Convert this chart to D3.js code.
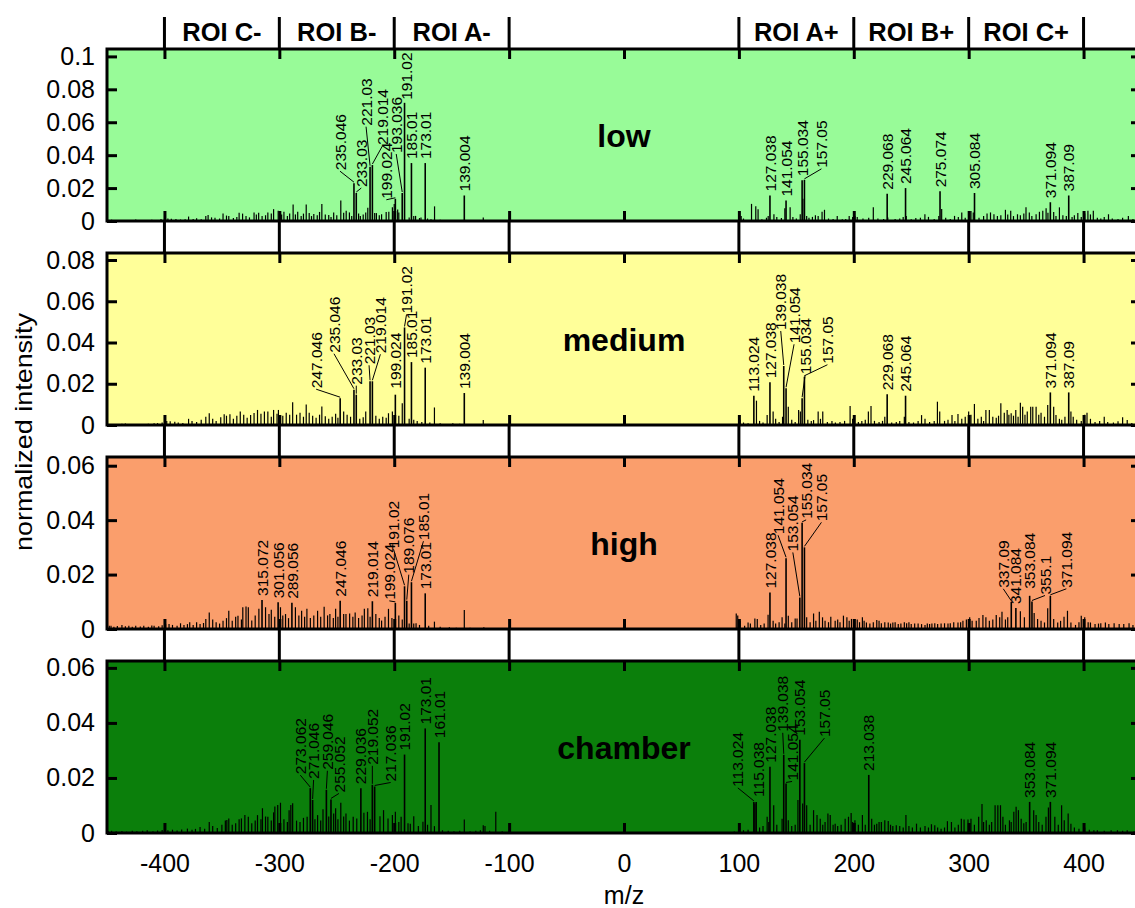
<!DOCTYPE html>
<html>
<head>
<meta charset="utf-8">
<script src="https://cdnjs.cloudflare.com/ajax/libs/d3/7.8.5/d3.min.js"></script>
<style>
  body { margin: 0; background: #fff; }
  svg { display: block; font-family: "Liberation Sans", Arial, sans-serif; }
</style>
</head>
<body>
<svg id="chart" width="1135" height="908"></svg>
<script>
// m/z is signed: negative ions on the left, positive on the right
var xTicks = [-400, -300, -200, -100, 0, 100, 200, 300, 400];
var roiBounds = [-400, -300, -200, -100, 100, 200, 300, 400];
var roiNames = ['ROI C-', 'ROI B-', 'ROI A-', 'ROI A+', 'ROI B+', 'ROI C+'];
var roiCenters = [-350, -250, -150, 150, 250, 350];

var panelNames = ['low', 'medium', 'high', 'chamber'];
var panelMax = [0.1045, 0.0834, 0.0632, 0.0625];
var lowTicks = [0, 0.02, 0.04, 0.06, 0.08, 0.1];
var mediumTicks = [0, 0.02, 0.04, 0.06, 0.08];
var highTicks = [0, 0.02, 0.04, 0.06];
var chamberTicks = [0, 0.02, 0.04, 0.06];

// labelled peaks [m/z, intensity]
var lowPeaks = [[-235.046,.023],[-233.03,.017],[-221.03,.033],[-219.014,.034],[-199.024,.0135],[-193.036,.017],
  [-191.02,.0718],[-185.01,.0352],[-173.01,.0352],[-139.004,.0155],[127.038,.0155],[141.054,.0124],[155.034,.0248],
  [157.05,.025],[229.068,.0166],[245.064,.020],[275.074,.018],[305.084,.017],[371.094,.0114],[387.09,.0155]];
var mediumPeaks = [[-247.046,.013],[-235.046,.0171],[-233.03,.0147],[-221.03,.0212],[-219.014,.0212],[-199.024,.0147],
  [-191.02,.0473],[-185.01,.0305],[-173.01,.0278],[-139.004,.0155],[113.024,.0142],[127.038,.0207],[139.038,.0286],
  [141.054,.0178],[155.034,.013],[157.05,.0234],[229.068,.0149],[245.064,.0142],[371.094,.0158],[387.09,.0158]];
var highPeaks = [[-315.072,.0107],[-301.056,.0098],[-289.056,.0096],[-247.046,.0104],[-219.014,.0102],[-199.024,.0096],
  [-191.02,.0157],[-189.076,.0104],[-185.01,.0172],[-173.01,.0131],[127.038,.0134],[141.054,.026],[153.054,.0116],
  [155.034,.039],[157.05,.030],[337.09,.010],[341.084,.0077],[353.084,.0122],[355.1,.0101],[371.094,.0122]];
var chamberPeaks = [[-273.062,.0163],[-271.046,.012],[-259.046,.0157],[-255.052,.0122],[-229.036,.0163],[-219.052,.0175],
  [-217.036,.0169],[-191.02,.0285],[-173.01,.038],[-161.01,.033],[113.024,.0113],[115.038,.0113],[127.038,.0241],
  [139.038,.0284],[141.054,.018],[153.054,.0339],[157.05,.0254],[213.038,.0211],[353.084,.0113],[371.094,.0113]];

// unlabelled peaks [m/z, intensity]
var lowNoise = [[-446,.0008],[-440,.0006],[-432,.0005],[-425,.0009],[-418,.0006],[-411,.0008],[-407,.0005],[-403,.0012],
  [-397,.0015],[-394,.0014],[-390,.0012],[-386,.0009],[-382,.0011],[-379,.0027],[-375,.0012],[-372,.0017],[-368,.0010],
  [-364,.0031],[-362,.0037],[-359,.0022],[-356,.0020],[-352,.0015],[-349,.0045],[-346,.0033],[-344,.0030],[-340,.0018],
  [-337,.0025],[-335,.0050],[-332,.0045],[-329,.0030],[-326,.0022],[-322,.0052],[-320,.0040],[-318,.0050],[-315,.0030],
  [-312,.0035],[-310,.0052],[-307,.0045],[-305,.0072],[-301,.0062],[-298,.0040],[-296,.0056],[-293,.0030],[-291,.0045],
  [-288,.0100],[-286,.0040],[-284,.0056],[-281,.0030],[-279,.0045],[-276.6,.0100],[-274,.0048],[-272,.0030],[-270,.0042],
  [-267,.0035],[-265,.0055],[-263,.0104],[-260,.0040],[-257,.0036],[-255,.0025],[-252.7,.0052],[-250,.0035],[-246.5,.0124],
  [-244,.0050],[-241.8,.0062],[-239,.0052],[-237,.0030],[-231,.0045],[-229.5,.0031],[-227,.0040],[-224.8,.0052],
  [-223,.0080],[-217,.0048],[-215.5,.0048],[-213,.0035],[-211,.0041],[-207,.0055],[-204.7,.0056],[-201.6,.0083],
  [-200,.0104],[-197,.0070],[-196,.0052],[-187,.0021],[-183,.0030],[-181.4,.0031],[-178,.0018],[-176.7,.0021],[-171,.0015],
  [-168,.0010],[-164.9,.0089],[-160,.0008],[-156,.0006],[-149,.0006],[-144,.0005],[-136,.0004],[-130,.0005],[-122.5,.0021],
  [-115,.0003],
  [102,.0030],[104,.0015],[111,.0104],[114.7,.0090],[116.7,.0072],[120,.0010],[124,.0020],[125.5,.0031],[130.5,.0041],
  [133,.0025],[137,.0018],[140,.0077],[144.6,.0083],[147,.0025],[150,.0015],[153.4,.0041],[155.7,.0135],[159,.0030],
  [161,.0020],[164,.0025],[166.6,.0035],[169,.0030],[172.4,.0056],[174.5,.0068],[178,.0015],[182,.0012],[185.6,.0031],
  [190,.0010],[193,.0012],[196,.0031],[199,.0025],[201,.0030],[203,.0025],[208,.0015],[213,.0020],[217,.0083],[221,.0015],
  [226,.0012],[229.6,.0021],[236,.0012],[240,.0015],[243,.0025],[245.7,.0031],[250,.0010],[254,.0018],[258,.0020],
  [261.9,.0041],[265,.0025],[270,.0012],[274,.0030],[276.5,.0073],[280,.0020],[284,.0012],[287.7,.0031],[291,.0025],
  [294,.0052],[297,.0020],[300,.0040],[302,.0060],[304,.0052],[309,.0020],[313,.0030],[316,.0045],[319,.0052],[322,.0041],
  [325,.0030],[328,.0035],[332,.0068],[334,.0040],[336.6,.0062],[339,.0030],[342.5,.0041],[345,.0035],[348,.0045],
  [349.9,.0083],[352.8,.0052],[355,.0030],[358.7,.0041],[361.6,.0056],[364.5,.0062],[367.4,.0077],[369,.0050],[374,.0055],
  [376,.0030],[379,.0083],[382,.0035],[385,.0031],[390,.0025],[392,.0035],[395,.0048],[398,.0025],[401,.0045],[403.8,.0062],
  [406,.0040],[408.5,.0062],[412,.0020],[415,.0015],[418,.0025],[421.7,.0041],[425,.0015],[430,.0012],[434,.0020],
  [439,.0031],[443,.0012],[447,.0020]];

var mediumNoise = [[-447,.0005],[-441,.0004],[-437,.0006],[-434,.0007],[-428,.0004],[-420,.0005],[-414,.0006],[-409,.0008],
  [-406,.0009],[-402,.0012],[-398,.0020],[-395,.0018],[-391,.0016],[-388,.0012],[-384,.0010],[-379,.0030],[-376,.0020],
  [-372,.0015],[-368,.0026],[-364,.0040],[-361,.0057],[-358,.0030],[-355,.0020],[-351,.0038],[-348,.0052],[-346,.0045],
  [-343,.0052],[-340,.0030],[-337,.0045],[-334,.0065],[-331,.0050],[-328,.0035],[-325,.0048],[-322,.0058],[-319,.0073],
  [-316,.0055],[-313,.0065],[-310,.0065],[-307,.0040],[-305,.0073],[-302,.0055],[-300.8,.0073],[-297,.0045],[-294,.0060],
  [-291,.0050],[-288.4,.011],[-285,.0050],[-282,.0060],[-279,.0040],[-276.6,.010],[-274,.0060],[-271,.0045],[-268,.0035],
  [-265,.0050],[-263,.009],[-260,.0042],[-257,.0030],[-254,.0040],[-251,.0055],[-249,.0035],[-244,.0065],[-241,.0050],
  [-238,.0040],[-230,.0030],[-227,.0038],[-224.8,.0065],[-216,.0045],[-213,.0030],[-210,.0040],[-207,.0035],[-205,.0057],
  [-201.6,.0065],[-196,.0045],[-193,.0106],[-187,.0030],[-183,.0025],[-180,.0020],[-176,.0015],[-169,.0012],[-165,.0085],
  [-160,.0008],[-152,.0005],[-149,.0008],[-143,.0006],[-134,.0004],[-127,.0005],[-122.5,.0024],[-116,.0004],
  [101,.0025],[104,.0012],[108,.0008],[115.3,.0118],[118,.0020],[121,.0012],[124.6,.0048],[129.8,.0065],[132,.0030],
  [135,.0015],[138,.0040],[143,.0089],[146,.0025],[149,.0015],[152,.0073],[153.5,.0065],[160,.0025],[163,.0020],[165,.0024],
  [169,.0065],[171,.0030],[173,.0065],[177,.0015],[181,.0020],[184,.0012],[188,.0015],[192,.0020],[196.8,.0092],[199,.0030],
  [204,.0015],[207,.0020],[210,.0025],[212.7,.0065],[215,.0092],[218,.0020],[222,.0015],[225,.0020],[227,.0040],[233,.0012],
  [237,.0015],[240,.0020],[244,.0040],[248,.0015],[252,.0012],[256,.0020],[259,.0048],[262,.0030],[266,.0015],[270,.0020],
  [272.8,.0113],[274.8,.0065],[279,.0020],[282,.0025],[285.5,.0048],[288,.0020],[290.7,.0053],[294,.0030],[297,.0040],
  [300,.0065],[302,.0050],[305,.0102],[308,.0030],[311,.0040],[313,.0020],[315,.0073],[318,.0073],[321,.0040],[324,.0035],
  [326,.0045],[328,.0105],[331,.0060],[333.5,.0073],[335,.0050],[337,.0057],[339,.0045],[341,.0073],[343,.0040],[345,.0108],
  [347,.0089],[349,.0050],[351,.0065],[354,.0089],[355.8,.0089],[358.7,.0089],[361,.0050],[363,.0060],[366,.0040],
  [368.8,.0097],[374,.0089],[376,.0048],[379,.0030],[381,.0025],[383.8,.0040],[389,.0065],[391,.0040],[394,.0025],
  [398,.0020],[401,.0050],[403,.0060],[406,.0030],[410,.0015],[414,.0020],[418,.0040],[421,.0015],[426,.0012],[430,.0018],
  [434,.0037],[438,.0024],[442,.0010],[447,.0012]];

var highNoise = [[-448,.0012],[-446.5,.0012],[-444,.0008],[-441,.0011],[-437,.0015],[-434,.0010],[-431,.0012],[-428,.0008],
  [-425,.0012],[-421,.0009],[-418,.0012],[-414,.0008],[-411,.0013],[-409,.0012],[-405,.0010],[-402,.0014],[-399,.0018],
  [-396,.0018],[-393,.0015],[-389,.0012],[-386,.0021],[-383,.0015],[-380,.0018],[-378,.0025],[-375,.0015],[-372,.0025],
  [-369,.0018],[-366,.0022],[-364,.0037],[-361,.0061],[-358,.0035],[-355,.0025],[-352,.0020],[-349,.0030],[-346,.0040],
  [-344,.0067],[-341,.0030],[-338,.0045],[-336,.0049],[-333,.0035],[-331.8,.0080],[-329,.0083],[-327,.0080],[-324,.0031],
  [-321,.0050],[-317.8,.0074],[-312,.0080],[-309,.0055],[-307,.0071],[-304,.0045],[-299,.0080],[-297,.0050],[-294.6,.0055],
  [-292,.0040],[-286,.0080],[-283,.0050],[-280.6,.0067],[-278,.0045],[-276,.0074],[-273,.0040],[-270,.0050],[-266.7,.0067],
  [-264,.0045],[-261,.0082],[-258,.0050],[-256,.0055],[-253,.0040],[-251,.0074],[-249,.0045],[-244,.0055],[-242,.0055],
  [-238.8,.0057],[-236,.0045],[-234,.0061],[-231,.0040],[-228,.0050],[-226,.0074],[-223,.0076],[-221,.0045],[-216,.0055],
  [-213,.0040],[-211,.0031],[-208,.0045],[-205,.0074],[-202,.0040],[-196,.0050],[-193,.0035],[-187,.0020],[-183,.0020],
  [-181,.0021],[-178,.0015],[-170,.0012],[-165,.0027],[-160,.0008],[-152,.0006],[-146,.0005],[-139,.0070],[-134,.0005],
  [-125,.0004],[-122,.0006],[-118,.0003],
  [97.7,.0057],[99,.0050],[101,.0030],[105,.0012],[108,.0024],[110,.0020],[113.9,.0039],[116,.0037],[119,.0015],[122,.0020],
  [125.4,.0052],[129.8,.0030],[132,.0020],[135,.0025],[137.6,.0043],[140,.0020],[143,.0049],[146,.0025],[149,.0039],
  [150.6,.0039],[159,.0043],[162,.0025],[165,.0057],[167,.0030],[170,.0063],[172.8,.0043],[175,.0030],[178,.0025],[180,.0045],
  [183.8,.0030],[186,.0035],[188,.0025],[191,.0049],[194,.0043],[196,.0030],[198,.0037],[201,.0037],[203,.0035],[205,.0025],
  [207.5,.0043],[209,.0030],[211,.0024],[214,.0020],[217,.0025],[220,.0033],[222,.0030],[224,.0021],[227,.0025],[230,.0024],
  [232,.0020],[234,.0024],[236,.0025],[238.7,.0018],[241,.0020],[244,.0025],[246,.0021],[248,.0025],[250,.0018],[253,.0020],
  [256,.0020],[259,.0018],[262,.0015],[264,.0020],[266,.0018],[268,.0020],[270.5,.0021],[273,.0018],[276,.0020],[279,.0021],
  [282,.0020],[284,.0021],[287,.0025],[290.7,.0024],[293,.0025],[295,.0030],[298,.0035],[300.9,.0043],[303,.0030],
  [306.6,.0030],[309,.0040],[312.4,.0051],[315,.0043],[318,.0030],[321,.0035],[324,.0051],[327,.0043],[329,.0063],[332,.0035],
  [334,.0043],[345,.0065],[348.5,.0043],[357,.0059],[360,.0037],[363,.0030],[366,.0024],[368.8,.0076],[374,.0037],
  [377.5,.0024],[380,.0030],[383,.0045],[386,.0067],[389,.0024],[393,.0015],[396,.0025],[398,.0049],[401,.0043],[404,.0025],
  [406,.0024],[410,.0018],[413,.0020],[415,.0021],[419,.0024],[422,.0018],[426.6,.0021],[431,.0018],[435,.0018],
  [439.6,.0021],[443,.0015],[447,.0018]];

var chamberNoise = [[-449,.0007],[-446,.0008],[-442,.0006],[-437,.0007],[-433,.0005],[-428,.0008],[-424,.0006],[-419,.0008],
  [-415,.0010],[-410,.0006],[-406,.0009],[-402,.0011],[-397,.0010],[-393,.0012],[-389,.0009],[-385,.0013],[-380,.0016],
  [-376,.0012],[-373,.0015],[-369,.0022],[-365,.0015],[-361,.0040],[-358,.0025],[-354,.0018],[-350,.0030],[-347,.0045],
  [-345.7,.0047],[-344,.0053],[-341,.0030],[-338,.0035],[-335,.0050],[-333,.0053],[-330,.0065],[-327,.0059],[-324,.0035],
  [-321,.0045],[-319,.0065],[-316,.0050],[-314.7,.0090],[-312,.0060],[-310,.0059],[-307,.0045],[-305,.0075],[-303.9,.0096],
  [-301.4,.0102],[-299,.0110],[-296,.0050],[-293,.0040],[-291.5,.0083],[-290,.0102],[-288.4,.0108],[-285,.0045],[-282,.0040],
  [-279,.0055],[-275.8,.0059],[-269,.0050],[-266.7,.0065],[-264,.0045],[-262,.0086],[-257,.0060],[-252.7,.0071],[-251,.0090],
  [-249,.0050],[-246.5,.0110],[-244,.0060],[-242,.0071],[-239,.0045],[-235.7,.0059],[-232.6,.0053],[-226.4,.0074],
  [-223.3,.0077],[-221,.0050],[-212.4,.0061],[-209.3,.0083],[-205.4,.0053],[-201.6,.0065],[-199,.0077],[-196,.0040],
  [-194,.0059],[-188,.0035],[-186,.0034],[-183,.0061],[-179,.0025],[-175,.0041],[-171,.0030],[-168,.0102],[-165,.0025],
  [-158,.0010],[-153,.0008],[-148,.0006],[-143,.0008],[-139,.0049],[-134,.0006],[-129,.0008],[-125,.0010],[-122.5,.0028],
  [-121,.0025],[-117,.0008],[-111.6,.0077],[-106,.0006],[-100,.0005],
  [71,.0004],[85,.0003],[96,.0005],[100.6,.0020],[104,.0010],[108,.0012],[113.9,.0107],[118,.0020],[121,.0025],[124.6,.0059],
  [126,.0040],[130.3,.0101],[133,.0030],[137.6,.0052],[143,.0046],[146,.0025],[149,.0030],[151.4,.0120],[155.5,.0107],
  [159,.0101],[162,.0030],[165,.0083],[168,.0065],[170.8,.0052],[173,.0030],[175,.0040],[177.5,.0071],[179.5,.0065],
  [182,.0030],[183.8,.0034],[186,.0025],[189,.0030],[192.5,.0052],[195.4,.0059],[197.7,.0073],[199,.0040],[201,.0046],
  [204,.0030],[207.5,.0065],[210,.0030],[215.6,.0052],[218,.0030],[220,.0034],[222,.0040],[224,.0040],[227,.0046],
  [230,.0044],[232,.0030],[234,.0025],[237,.0028],[240,.0025],[243,.0020],[245.4,.0065],[248,.0025],[251,.0020],
  [254.6,.0034],[258,.0020],[262,.0025],[265,.0020],[267.6,.0032],[270.5,.0028],[273,.0020],[276,.0015],[279,.0020],
  [281.5,.0043],[285,.0040],[288,.0020],[291,.0030],[293.6,.0052],[296,.0049],[299.4,.0049],[302,.0052],[305,.0030],
  [308.7,.0059],[311.6,.0105],[313,.0040],[315.3,.0046],[318,.0030],[320,.0040],[323,.0101],[325.4,.0101],[327.7,.0101],
  [329.8,.0059],[332,.0030],[335.5,.0046],[337,.0040],[339.3,.0077],[341.3,.0095],[343.3,.0083],[345.7,.0052],[348,.0035],
  [350,.0040],[356.6,.0083],[358.7,.0065],[361,.0040],[364,.0030],[367.3,.0059],[369.4,.0093],[375,.0059],[378,.0030],
  [380.9,.0101],[383.2,.0046],[386.6,.0071],[389,.0034],[392,.0020],[396,.0015],[401,.0020],[405,.0012],[409,.0010],
  [412,.0010],[418,.0008],[424,.0010],[429.5,.0010],[434,.0008],[438,.0010],[444,.0006],[448,.0008]];

// label placement, px: [shift right, lift above peak top]; default [0, 4]
var labelNudge = {
    low: {'235.046': [-14, 13], '233.03': [5, 6], '221.03': [-4, 41], '219.014': [10, 20], '193.036': [-6, 40],
        '199.024': [-9, 0], '191.02': [2, 3], '157.05': [17, 12]},
    medium: {'247.046': [-24, 10], '235.046': [-20, 37], '233.03': [0, 10], '221.03': [-1, 17], '219.014': [8, 28],
        '199.024': [0, 6], '191.02': [2, 14], '139.038': [-3, 36], '141.054': [8, 45], '155.034': [3, 24], '157.05': [23, 13]},
    high: {'199.024': [-6, 3], '191.02': [-11, 38], '189.076': [2, 27], '185.01': [12, 42], '141.054': [-8, 24],
        '153.054': [-7, 46], '155.034': [4, 4], '157.05': [17, 26], '337.09': [-8, 14], '353.084': [0, 7], '355.1': [13, 7],
        '371.094': [16, 8]},
    chamber: {'273.062': [-10, 14], '271.046': [1, 21], '259.046': [1, 20], '255.052': [8, 7], '219.052': [0, 20],
        '217.036': [16, 5], '113.024': [-16, 15], '115.038': [2, 5], '139.038': [-1, 23], '141.054': [6, 3], '157.05': [20, 26]}
};

var panelFill = ['#98fb98', '#ffff99', '#fa9e6c', '#0b7f0b'];
var panelTicks = [lowTicks, mediumTicks, highTicks, chamberTicks];
var panelPeaks = [lowPeaks, mediumPeaks, highPeaks, chamberPeaks];
var panelNoise = [lowNoise, mediumNoise, highNoise, chamberNoise];

var svg = d3.select('#chart');
var x = d3.scaleLinear().domain([-450, 450]).range([107, 1141]);
var top0 = 49, panelH = 172, step = 204;
var tickW = 3;

function panelTop(i) { return top0 + i * step; }

panelNames.forEach(function (name, i) {
    var y0 = panelTop(i), y1 = y0 + panelH;
    var y = d3.scaleLinear().domain([0, panelMax[i]]).range([y1, y0]);
    var g = svg.append('g').attr('class', 'panel ' + name);

    g.append('rect')
        .attr('x', x(-450)).attr('y', y0)
        .attr('width', x(450) - x(-450)).attr('height', panelH)
        .attr('fill', panelFill[i]);

    g.selectAll('.noise')
        .data(panelNoise[i])
        .enter().append('line')
        .attr('class', 'noise')
        .attr('x1', function (d) { return x(d[0]); })
        .attr('x2', function (d) { return x(d[0]); })
        .attr('y1', y(0))
        .attr('y2', function (d) { return y(d[1]); })
        .attr('stroke', '#000').attr('stroke-width', 1.2);

    var nudge = labelNudge[name];
    var peaks = panelPeaks[i].map(function (d) {
        var text = String(Math.abs(d[0]));
        var n = nudge[text] || [0, 4];
        var px = x(d[0]), py = y(d[1]);
        return { text: text, px: px, py: py, lx: px + n[0], by: py - n[1], lead: Math.abs(n[0]) > 2 || n[1] > 7 };
    });

    g.selectAll('.peak')
        .data(peaks)
        .enter().append('line')
        .attr('class', 'peak')
        .attr('x1', function (d) { return d.px; })
        .attr('x2', function (d) { return d.px; })
        .attr('y1', y(0))
        .attr('y2', function (d) { return d.py; })
        .attr('stroke', '#000').attr('stroke-width', 1.6);

    g.selectAll('.leader')
        .data(peaks.filter(function (d) { return d.lead; }))
        .enter().append('line')
        .attr('class', 'leader')
        .attr('x1', function (d) { return d.px; })
        .attr('y1', function (d) { return d.py - 1; })
        .attr('x2', function (d) { return d.lx; })
        .attr('y2', function (d) { return d.by + 1; })
        .attr('stroke', '#000').attr('stroke-width', 1);

    g.selectAll('.plabel')
        .data(peaks)
        .enter().append('text')
        .attr('class', 'plabel')
        .attr('transform', function (d) { return 'translate(' + d.lx + ',' + d.by + ') rotate(-90)'; })
        .attr('dy', '0.36em')
        .attr('font-size', '15.5px')
        .text(function (d) { return d.text; });

    g.append('text')
        .attr('x', x(0)).attr('y', (y0 + y1) / 2)
        .attr('dy', '0.36em')
        .attr('text-anchor', 'middle')
        .attr('font-size', '32px').attr('font-weight', 'bold')
        .text(name);

    // axes with inward ticks
    var left = g.append('g')
        .attr('transform', 'translate(' + x(-450) + ',0)')
        .call(d3.axisLeft(y).tickValues(panelTicks[i]).tickSize(-10).tickPadding(12)
            .tickFormat(function (d) { return String(d); }));
    var right = g.append('g')
        .attr('transform', 'translate(' + x(450) + ',0)')
        .call(d3.axisRight(y).tickValues(panelTicks[i]).tickSize(-10).tickFormat(''));
    var bottom = g.append('g')
        .attr('transform', 'translate(0,' + y1 + ')')
        .call(d3.axisBottom(x).tickValues(xTicks).tickSize(-10).tickPadding(21)
            .tickFormat(i === panelNames.length - 1 ? function (d) { return String(d); } : ''));
    var topAxis = g.append('g')
        .attr('transform', 'translate(0,' + y0 + ')')
        .call(d3.axisTop(x).tickValues(xTicks).tickSize(-10).tickFormat(''));

    [left, right, bottom, topAxis].forEach(function (a) {
        a.select('.domain').remove();
        a.selectAll('.tick line').attr('stroke', '#000').attr('stroke-width', tickW);
        a.selectAll('.tick text')
            .attr('fill', '#000')
            .attr('font-family', '"Liberation Sans", Arial, sans-serif')
            .attr('font-size', '25px');
    });

    g.append('rect')
        .attr('x', x(-450)).attr('y', y0)
        .attr('width', x(450) - x(-450)).attr('height', panelH)
        .attr('fill', 'none').attr('stroke', '#000').attr('stroke-width', 3);
});

// ROI boundaries run through the gaps between panels and above the top one
panelNames.forEach(function (name, i) {
    var yStart = i === 0 ? 17 : panelTop(i - 1) + panelH;
    svg.selectAll(null)
        .data(roiBounds)
        .enter().append('line')
        .attr('x1', function (d) { return x(d); })
        .attr('x2', function (d) { return x(d); })
        .attr('y1', yStart)
        .attr('y2', panelTop(i))
        .attr('stroke', '#000').attr('stroke-width', tickW);
});

svg.selectAll('.roi')
    .data(roiNames)
    .enter().append('text')
    .attr('class', 'roi')
    .attr('x', function (d, i) { return x(roiCenters[i]); })
    .attr('y', 41)
    .attr('text-anchor', 'middle')
    .attr('font-size', '25.5px').attr('font-weight', 'bold')
    .text(function (d) { return d; });

svg.append('text')
    .attr('x', x(0)).attr('y', 895)
    .attr('dy', '0.36em')
    .attr('text-anchor', 'middle')
    .attr('font-size', '25px')
    .text('m/z');

svg.append('text')
    .attr('transform', 'translate(23,432) rotate(-90)')
    .attr('dy', '0.36em')
    .attr('text-anchor', 'middle')
    .attr('font-size', '24px')
    .attr('textLength', 238)
    .attr('lengthAdjust', 'spacingAndGlyphs')
    .text('normalized intensity');
</script>
</body>
</html>
